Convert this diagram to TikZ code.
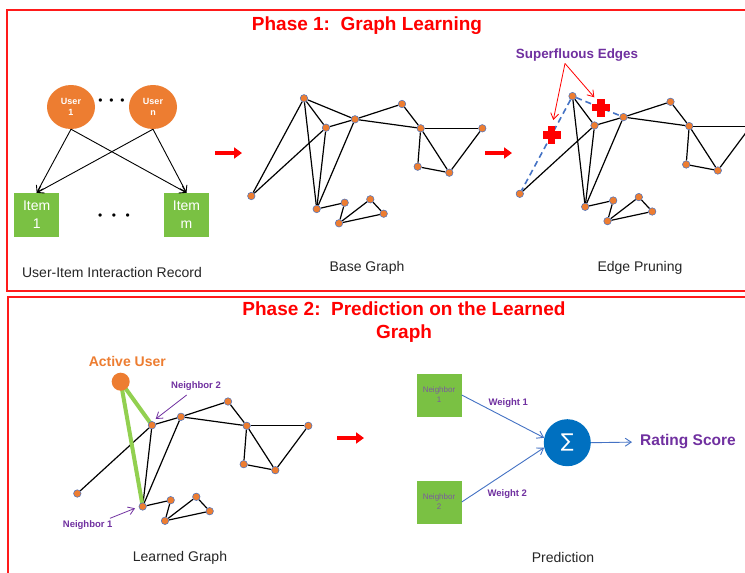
\documentclass[tikz,border=0pt]{standalone}
\usepackage{fontspec}
\setmainfont{Liberation Sans}
\newfontfamily\symfont{DejaVu Sans}
\usetikzlibrary{arrows.meta,shapes.geometric}
\definecolor{framered}{HTML}{FF1A1A}
\definecolor{titlered}{HTML}{FF0000}
\definecolor{nodeorange}{HTML}{ED7D31}
\definecolor{nodeblue}{HTML}{4472C4}
\definecolor{itemgreen}{HTML}{7AC143}
\definecolor{lblpurple}{HTML}{7030A0}
\definecolor{nbtext}{HTML}{7A5A9E}
\definecolor{sigblue}{HTML}{0070C0}
\definecolor{lightgreen}{HTML}{92D050}
\pgfdeclarelayer{bg}
\pgfsetlayers{bg,main}
\tikzset{
 frame/.style={draw=framered, line width=1.6pt},
 titletext/.style={text=titlered, font=\fontsize{19}{23}\selectfont\bfseries, align=center},
 gnode/.style={circle, fill=nodeorange, draw=nodeblue, line width=0.5pt, minimum size=7.5pt, inner sep=0pt},
 gedge/.style={draw=black, line width=1.2pt},
 pruned/.style={draw=nodeblue, line width=1.6pt, dash pattern=on 6pt off 4pt},
 userbox/.style={ellipse, fill=nodeorange, minimum width=48pt, minimum height=44pt, inner sep=0pt, text=white, font=\fontsize{9}{11.5}\selectfont\bfseries, align=center},
 itembox/.style={rectangle, fill=itemgreen, minimum width=45pt, minimum height=44pt, inner sep=0pt, text=white, font=\fontsize{14}{18}\selectfont, align=center},
 nbox/.style={rectangle, fill=itemgreen, minimum width=45pt, minimum height=43pt, inner sep=0pt, text=nbtext, font=\fontsize{8}{10}\selectfont, align=center},
 caption/.style={font=\fontsize{14}{16}\selectfont, text=black!85},
 barb/.style={-{Straight Barb[length=6pt,width=8pt]}},
 bigarrow/.style={draw=red, line width=4pt, -{Triangle[length=8pt,width=11pt]}},
 bluearrow/.style={draw=nodeblue, line width=0.9pt, barb},
 purplelbl/.style={text=lblpurple, font=\fontsize{9.5}{11}\selectfont\bfseries},
 dots/.style={font=\fontsize{12}{14}\selectfont, text=black},
}
\begin{document}
\begin{tikzpicture}[x=1pt,y=-1pt]
\useasboundingbox (0,0) rectangle (745,573);
\begin{pgfonlayer}{bg}
\fill[white] (0,0) rectangle (745,573);
\end{pgfonlayer}

% frames
\draw[frame] (7,10) rectangle (760,291);
\draw[frame] (8,297) rectangle (760,590);

% titles
\node[titletext] (t1) at (367,26) {Phase 1:\ \ Graph Learning};
\node[titletext] (t2) at (404,322.5) {Phase 2:\ \ Prediction on the Learned\\Graph};

% ---------- User-item interaction ----------
\node[userbox] (u1) at (71,107) {User\\1};
\node[userbox] (un) at (153,107) {User\\n};
\node[itembox] (i1) at (36.7,215) {Item\\1};
\node[itembox] (im) at (186.5,215) {Item\\m};
\node[dots] (ud) at (111.5,102) {•\hspace{6.8pt}•\hspace{6.8pt}•};
\node[dots] (id) at (114,217) {•\hspace{9.5pt}•\hspace{9.5pt}•};
\draw[black, line width=0.9pt, barb] (u1.south) -- (i1.north);
\draw[black, line width=0.9pt, barb] (u1.south) -- (im.north);
\draw[black, line width=0.9pt, barb] (un.south) -- (i1.north);
\draw[black, line width=0.9pt, barb] (un.south) -- (im.north);
\node[caption] (c1) at (112,272) {User-Item Interaction Record};

% red arrows
\coordinate (ra1) at (215,153); \coordinate (rb1) at (242,153);
\coordinate (ra2) at (485,153); \coordinate (rb2) at (512,153);
\coordinate (ra3) at (337,438); \coordinate (rb3) at (364,438);
\draw[bigarrow] (ra1) -- (rb1);
\draw[bigarrow] (ra2) -- (rb2);
\draw[bigarrow] (ra3) -- (rb3);

% ---------- Base graph ----------
\foreach \n/\x/\y in {A/304/98.3, B/326/127.7, C/355/119.3, D/402/104, E/420.7/128.3, F/482.3/128.3, G/417.7/166.7, H/449.3/172.7, I/251.3/196, J/316.7/209, K/344.7/202.7, L/339/223.3, M/370.3/199.3, N/383.7/213.7}
  \node[gnode] (b\n) at (\x,\y) {};
\begin{pgfonlayer}{bg}
\foreach \a/\b in {A/I,A/B,A/C,A/J,B/I,B/C,B/J,C/J,C/D,C/E,D/E,E/F,E/G,E/H,F/H,G/H,J/K,K/L,L/M,M/N,L/N}
  \draw[gedge] (b\a) -- (b\b);
\end{pgfonlayer}
\node[caption] (c2) at (367,268) {Base Graph};

% ---------- Edge pruning ----------
\begin{scope}[shift={(268.5,-2.2)}]
\foreach \n/\x/\y in {A/304/98.3, B/326/127.7, C/355/119.3, D/402/104, E/420.7/128.3, F/482.3/128.3, G/417.7/166.7, H/449.3/172.7, I/251.3/196, J/316.7/209, K/344.7/202.7, L/339/223.3, M/370.3/199.3, N/383.7/213.7}
  \node[gnode] (p\n) at (\x,\y) {};
\end{scope}
\begin{pgfonlayer}{bg}
\foreach \a/\b in {A/B,A/J,B/I,B/C,B/J,C/J,C/D,C/E,D/E,E/F,E/G,E/H,F/H,G/H,J/K,K/L,L/M,M/N,L/N}
  \draw[gedge] (p\a) -- (p\b);
\draw[pruned] (pA) -- (pI);
\draw[pruned] (pA) -- (pC);
\end{pgfonlayer}
\begin{scope}[shift={(551.7,135)}]
\fill[red] (-9,-3.6) rectangle (9,3.6);
\fill[red] (-3.6,-9) rectangle (3.6,9);
\end{scope}
\begin{scope}[shift={(601,107.7)}]
\fill[red] (-9,-3.6) rectangle (9,3.6);
\fill[red] (-3.6,-9) rectangle (3.6,9);
\end{scope}
\node[text=lblpurple, font=\fontsize{13.4}{15}\selectfont\bfseries] (sup) at (577,55) {Superfluous Edges};
\coordinate (supf) at (565,63.5);
\coordinate (supa) at (553.3,120);
\coordinate (supb) at (594.3,97.3);
\draw[red, line width=0.8pt, barb] (supf) -- (supa);
\draw[red, line width=0.8pt, barb] (supf) -- (supb);
\node[caption] (c3) at (640,268) {Edge Pruning};

% ---------- Learned graph ----------
\begin{scope}[shift={(-174,297.5)}]
\foreach \n/\x/\y in {B/326/127.7, C/355/119.3, D/402/104, E/420.7/128.3, F/482.3/128.3, G/417.7/166.7, H/449.3/172.7, I/251.3/196, J/316.7/209, K/344.7/202.7, L/339/223.3, M/370.3/199.3, N/383.7/213.7}
  \node[gnode] (l\n) at (\x,\y) {};
\end{scope}
\node[circle, fill=nodeorange, minimum size=18pt, inner sep=0pt] (au) at (120.7,381.7) {};
\begin{pgfonlayer}{bg}
\foreach \a/\b in {B/I,B/C,B/J,C/J,C/D,C/E,D/E,E/F,E/G,E/H,F/H,G/H,J/K,K/L,L/M,M/N,L/N}
  \draw[gedge] (l\a) -- (l\b);
\draw[lightgreen, line width=4pt] (au.center) -- (lB.center);
\draw[lightgreen, line width=4pt] (au.center) -- (lJ.center);
\end{pgfonlayer}
\node[text=nodeorange, font=\fontsize{14}{16}\selectfont\bfseries] (aul) at (127.3,361.5) {Active User};
\node[purplelbl] (nb2) at (196,385.7) {Neighbor 2};
\node[purplelbl] (nb1) at (87.7,525) {Neighbor 1};
\coordinate (nb2f) at (186.7,395); \coordinate (nb2t) at (155.7,419);
\coordinate (nb1f) at (110,518.3); \coordinate (nb1t) at (135,508.3);
\draw[lblpurple, line width=0.8pt, barb] (nb2f) -- (nb2t);
\draw[lblpurple, line width=0.8pt, barb] (nb1f) -- (nb1t);
\node[caption] (c4) at (180,558) {Learned Graph};

% ---------- Prediction ----------
\node[nbox] (n1) at (439,395) {Neighbor\\1};
\node[nbox] (n2) at (439,502) {Neighbor\\2};
\node[circle, fill=sigblue, minimum size=47pt, inner sep=0pt, text=white, font=\fontsize{19}{20}\selectfont] (sig) at (567.3,442.7) {\symfont ∑};
\node[text=lblpurple, font=\fontsize{15.5}{18}\selectfont\bfseries, inner sep=0pt] (rs) at (688,442) {Rating Score};
\draw[bluearrow] (n1.east) -- (sig.168);
\draw[bluearrow] (n2.east) -- (sig.192);
\draw[bluearrow, shorten >=8pt] (sig.east) -- (rs.west);
\node[purplelbl] (w1) at (508.3,403.3) {Weight 1};
\node[purplelbl] (w2) at (507.3,494.3) {Weight 2};
\node[caption] (c5) at (563,557) {Prediction};
\end{tikzpicture}
\end{document}
